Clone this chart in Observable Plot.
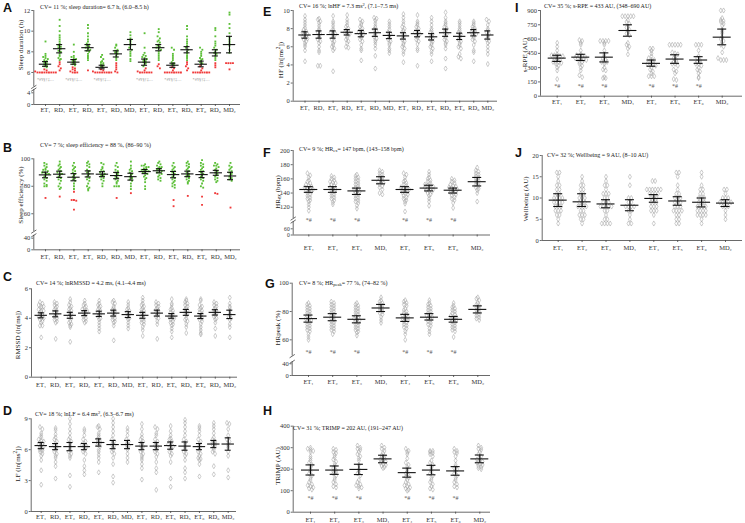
<!DOCTYPE html>
<html><head><meta charset="utf-8">
<script src="https://cdn.jsdelivr.net/npm/d3@7"></script>
<script src="https://cdn.jsdelivr.net/npm/@observablehq/plot@0.6"></script>
<style>
body{margin:0;background:#fff;}
#fig{position:relative;width:745px;height:523px;overflow:hidden;font-family:"Liberation Serif","DejaVu Serif",serif;color:#222;}
.lt{position:absolute;font:bold 12.5px "Liberation Sans",Arial,sans-serif;line-height:1;color:#111;}
.cv{position:absolute;font-size:6px;line-height:1;white-space:nowrap;}
.yt{position:absolute;font-size:7px;line-height:1;white-space:nowrap;transform:translate(-50%,-50%) rotate(-90deg);}
sub{font-size:0.75em;vertical-align:-0.3em;line-height:0;}
sup{font-size:0.75em;vertical-align:0.4em;line-height:0;}
</style></head><body><div id="fig"></div><script>
// ---------- categories ----------
const catsLong = ["ET₁","RD₁","ET₂","RD₂","ET₃","RD₃","MD₁","ET₄","RD₄","ET₅","RD₅","ET₆","RD₆","MD₂"];
const catsLongB = ["ET₁","RD₁","ET₂","ET₃","RD₂","RD₃","MD₁","ET₄","RD₄","ET₅","RD₅","ET₆","RD₆","MD₂"];
const catsShort = ["ET₁","ET₂","ET₃","MD₁","ET₄","ET₅","ET₆","MD₂"];
const etIdxLong = [0,2,4,7,9,11];
const etIdxShort = [0,1,2,4,5,6];

// ---------- A: sleep duration (h) ----------
const sleepDurGreen = [
 [9.0,7.8,7.6,7.5,7.4,7.3,7.2,7.1,7.0,6.9,6.8,6.7,6.6,6.5],
 [11.1,10.5,10.0,9.6,9.4,9.2,9.0,8.8,8.6,8.5,8.4,8.3,8.1,8.0,7.8,7.6,7.4,7.3,7.2],
 [8.7,8.0,7.6,7.5,7.4,7.3,7.2,7.1,7.0,6.9,6.8,6.7],
 [10.6,10.3,9.8,9.5,9.2,9.0,8.8,8.7,8.6,8.5,8.4,8.3,8.2,8.1,8.0,7.8,7.6,7.4,7.2],
 [7.7,7.5,7.3,7.1,7.0,6.9,6.8,6.7,6.6,6.5],
 [8.7,8.6,8.4,8.2,8.1,8.0,7.9,7.8,7.6,7.4,7.2],
 [9.9,9.6,9.3,9.1,9.0,8.8,8.6,8.4,8.2,8.0,7.8,7.6,7.3,7.1],
 [9.8,8.4,7.9,7.7,7.6,7.5,7.4,7.3,7.2,7.1,7.0,6.9,6.8,6.6],
 [10.2,9.9,9.5,9.3,9.1,9.0,8.9,8.7,8.6,8.5,8.4,8.3,8.2,8.0,7.8,7.6,7.4,7.2],
 [8.4,8.2,7.8,7.6,7.4,7.2,7.0,6.9,6.8,6.7],
 [10.5,10.2,9.5,9.2,9.0,8.8,8.6,8.4,8.2,8.0,7.8,7.6,7.4,7.2],
 [8.4,8.2,8.0,7.8,7.6,7.4,7.3,7.2,7.0,6.9,6.8],
 [10.3,10.1,9.5,9.0,8.8,8.6,8.4,8.2,8.0,7.9,7.8,7.6,7.4,7.2],
 [11.8,11.6,10.7,10.3,9.8,9.4,9.2,9.0,8.8,8.6,8.2,7.9]];
const sleepDurRed = [
 [6.3,6.2,6.1,6.0,6.0,6.0,6.0,6.0,6.0,6.0,6.0,6.0],
 [7.0,6.8,6.6,6.4,6.2],
 [6.5,6.4,6.3,6.2,6.1,6.0,6.0,6.0],
 [6.2],
 [6.3,6.2,6.1,6.0,6.0,6.0,6.0,6.0,6.0,6.0,6.0],
 [6.9,6.7,6.5,6.3,6.1,6.0],
 [],
 [6.4,6.2,6.1,6.0,6.0,6.0,6.0,6.0,6.0],
 [6.8,6.6,6.4],
 [6.5,6.4,6.2,6.0,6.0,6.0,6.0,6.0,6.0,6.0,6.0],
 [7.0,6.8,6.6,6.4,6.2],
 [6.6,6.4,6.2,6.0,6.0,6.0,6.0,6.0,6.0,6.0,6.0],
 [6.9,6.7,6.5],
 [6.9,6.9,6.9,6.9,6.3]];
const sleepDurMean = [6.8,8.3,7.0,8.4,6.5,7.8,8.7,7.0,8.4,6.7,8.2,6.8,7.9,8.7];
const sleepDurLo = [6.6,7.9,6.8,8.1,6.35,7.5,8.2,6.7,8.1,6.5,7.9,6.55,7.6,7.9];
const sleepDurHi = [7.05,8.7,7.25,8.7,6.7,8.1,9.2,7.3,8.7,6.9,8.5,7.1,8.2,9.5];
const ticksA = [0,4,6,8,10,12];

// ---------- B: sleep efficiency (%) ----------
const sleepEffGreen = [
 [97,96,95,94,93,92,92,91,90,90,89,89,88,87,86,85,84,82,81,80,80],
 [98,96,95,94,93,92,91,90,89,89,88,87,86,85,84,82,80,79,78],
 [97,95,94,93,92,91,90,89,88,87,86,85,84,82,80,78],
 [98,97,96,95,94,92,91,90,89,88,87,86,85,84,82,80,79,78,77],
 [97,96,94,93,92,91,90,89,89,88,88,87,86,85,84,82,80],
 [97,95,94,92,91,90,89,88,87,86,85,84,83,82,80,80,80],
 [98,95,93,92,91,90,89,88,87,86,85,84,82,80,78],
 [96,95,95,94,94,93,93,92,92,91,91,90,90,89,88,87,86,85,83,80,78],
 [98,97,96,95,94,94,93,93,92,92,91,90,90,89,88,87,86,85,84],
 [97,95,94,93,92,91,90,89,88,87,86,85,84,83,82,81,80,79],
 [98,97,96,95,94,93,92,91,90,89,88,88,87,86,85,84,83,82],
 [99,97,96,95,94,93,92,91,90,89,88,87,86,85,84,82,80,79],
 [97,96,95,95,94,93,92,91,90,89,88,87,86,85,84,83],
 [97,95,94,93,92,91,90,89,88,87,86,85,84]];
const sleepEffRed = [[71.5],[72.5],[76,70,70,69.5,63],[],[],[71.5],[75],[],[],[70,65.5],[73],[72.5,66.5],[75,74.5],[64.5]];
const sleepEffMean = [88.3,88.8,86.6,89,88.8,87.8,87,90.7,91.3,88.5,89,88.5,89.8,87.5];
const sleepEffLo = [86.2,86.5,84,86.8,87,85.5,84.5,89.2,89.8,86.2,87,86.3,88,84.8];
const sleepEffHi = [90.3,91,89.2,91.2,90.6,90.1,89.5,92.2,92.8,90.8,91,90.7,91.6,90.2];
const ticksB = [0,40,60,80,100];

// ---------- C: lnRMSSD ----------
const rmssd = [
 [5.1,5.0,4.9,4.8,4.8,4.7,4.6,4.5,4.5,4.4,4.3,4.2,4.2,4.1,4.0,4.0,3.9,3.8,3.7,3.5,3.5,2.7],
 [5.1,5.0,4.9,4.8,4.7,4.6,4.5,4.4,4.3,4.2,4.1,4.0,3.9,3.8,3.7,2.6],
 [5.3,5.1,4.9,4.8,4.7,4.6,4.5,4.4,4.3,4.2,4.1,4.0,3.8,3.7,3.6,3.5,3.4,2.4],
 [5.2,5.0,4.9,4.8,4.7,4.6,4.5,4.5,4.4,4.3,4.2,4.1,4.0,3.9,3.8,3.7],
 [5.2,5.0,4.9,4.8,4.7,4.6,4.5,4.4,4.3,4.2,4.1,4.0,3.9,3.7,3.5,3.3,3.1],
 [5.2,5.1,5.0,4.8,4.7,4.6,4.5,4.4,4.3,4.2,4.1,4.0,3.9,3.8,3.7,3.5,2.5],
 [5.1,4.9,4.7,4.6,4.5,4.4,4.3,4.2,4.1,4.0,3.9,3.7,3.5,3.3],
 [5.4,5.2,5.0,4.9,4.8,4.7,4.6,4.5,4.4,4.3,4.2,4.1,4.0,3.9,3.8,3.7,3.6,3.4,3.2,2.8],
 [5.1,5.0,4.9,4.8,4.7,4.6,4.5,4.4,4.3,4.2,4.1,4.0,3.8,3.6,2.6],
 [5.3,5.0,4.9,4.7,4.6,4.5,4.4,4.3,4.2,4.1,4.0,4.0,3.9,3.8,3.7,3.6,3.5,3.3,3.1,2.7],
 [5.3,5.2,5.1,5.0,4.9,4.8,4.7,4.6,4.5,4.4,4.3,4.2,4.0,3.9,3.8,3.6,3.4,3.0],
 [5.3,5.2,4.9,4.8,4.7,4.6,4.5,4.4,4.3,4.2,4.1,4.0,3.9,3.8,3.6,3.4,3.2,3.0,2.9],
 [5.1,5.0,4.9,4.8,4.7,4.6,4.5,4.4,4.3,4.2,4.1,4.0,3.9,3.7,3.3,2.8],
 [5.4,5.0,4.8,4.7,4.5,4.3,4.2,4.1,4.0,3.9,3.6,3.4,2.7]];
const rmssdMean = [4.2,4.3,4.2,4.35,4.3,4.35,4.25,4.2,4.35,4.15,4.4,4.15,4.4,4.25];
const rmssdLo = [4.03,4.1,4.0,4.18,4.12,4.15,4.05,4.0,4.15,4.0,4.2,3.98,4.22,3.98];
const rmssdHi = [4.37,4.5,4.4,4.52,4.48,4.55,4.45,4.4,4.55,4.32,4.6,4.32,4.58,4.55];
const ticksC = [0,2,4,6];

// ---------- D: lnLF ----------
const lf = [
 [8.2,8.0,7.6,7.4,7.2,7.0,6.9,6.8,6.7,6.6,6.5,6.4,6.3,6.2,6.1,6.0,5.9,5.8,5.6,5.4,5.0,4.0,2.6],
 [8.1,7.9,7.5,7.2,7.0,6.8,6.6,6.4,6.3,6.2,6.0,5.8,5.6,5.4,5.2,4.8,4.4,3.2],
 [9.0,8.5,8.0,7.6,7.2,7.0,6.8,6.6,6.4,6.2,6.0,5.8,5.6,5.4,5.2,3.5,2.4],
 [8.0,7.8,7.4,7.0,6.8,6.6,6.5,6.4,6.3,6.2,6.0,5.8,5.6,5.0,4.4,4.0,3.6],
 [8.3,8.2,8.0,7.6,7.4,7.2,7.0,6.8,6.7,6.6,6.5,6.3,6.0,5.8,5.5,5.2,4.8,3.8],
 [9.0,8.6,8.2,7.8,7.4,7.0,6.8,6.6,6.5,6.4,6.2,6.0,5.8,5.6,5.2,4.6,3.4,2.8],
 [8.1,7.8,7.4,7.0,6.8,6.6,6.5,6.4,6.2,6.0,5.6,5.2,4.8],
 [8.5,8.0,7.5,7.2,7.0,6.8,6.6,6.4,6.3,6.2,6.0,5.8,5.6,5.4,5.2,5.0,4.6,4.2,3.1],
 [8.2,8.0,7.6,7.4,7.0,6.8,6.6,6.4,6.3,6.2,6.0,5.8,5.6,5.3,4.8,4.2,3.8,2.1],
 [8.3,7.8,7.4,7.1,7.0,6.8,6.6,6.5,6.4,6.3,6.2,6.0,5.8,5.6,5.4,4.8,3.2,2.4],
 [8.9,8.6,8.2,7.8,7.4,7.0,6.8,6.6,6.4,6.2,6.0,5.8,5.6,5.4,5.0,4.2,3.8,3.2],
 [8.3,8.1,7.8,7.4,7.0,6.8,6.6,6.4,6.2,6.0,5.8,5.6,5.4,5.2,5.1,5.0,4.6,3.4],
 [8.6,8.3,8.0,7.6,7.2,7.0,6.8,6.7,6.6,6.5,6.4,6.2,6.0,5.8,5.6,4.4,3.6],
 [8.6,8.5,8.0,7.4,7.0,6.8,6.6,6.4,6.2,5.8,5.4,4.0,3.3]];
const lfMean = [6.4,6.3,6.3,6.3,6.7,6.5,6.5,6.35,6.35,6.4,6.35,6.3,6.55,6.55];
const lfLo = [6.1,6.0,5.9,6.0,6.35,6.1,6.1,6.0,6.0,6.05,5.95,6.0,6.2,5.95];
const lfHi = [6.7,6.6,6.7,6.6,7.05,6.9,6.9,6.7,6.7,6.75,6.75,6.6,6.9,7.15];
const ticksD = [0,3,6,9];

// ---------- E: lnHF ----------
const hf = [
 [9.4,9.0,8.7,8.4,8.1,7.9,7.7,7.6,7.5,7.4,7.3,7.2,7.1,7.0,6.9,6.8,6.6,6.4,6.2,6.0,5.6,4.4],
 [9.1,9.0,8.8,8.6,8.3,8.0,7.8,7.6,7.4,7.2,7.0,6.8,6.6,6.4,6.0,5.6,5.4,3.9,3.9],
 [9.4,8.8,8.6,8.3,8.0,7.8,7.6,7.5,7.4,7.2,7.0,6.8,6.6,6.4,6.2,6.0,5.8,5.6,3.3],
 [9.5,9.0,8.7,8.4,8.2,8.0,7.8,7.7,7.6,7.5,7.4,7.2,7.0,6.8,6.6,6.4,6.0,5.9],
 [9.0,8.8,8.6,8.4,8.2,8.0,7.8,7.7,7.6,7.5,7.4,7.2,7.0,6.8,6.6,6.2,5.8,5.6,4.5],
 [9.2,9.1,8.9,8.6,8.3,8.1,7.9,7.7,7.5,7.3,7.1,6.9,6.7,6.5,6.2,5.8,5.0,3.6],
 [8.8,8.5,8.2,7.9,7.6,7.4,7.2,7.0,6.8,6.6,6.4,6.2,5.8,5.6,5.3],
 [9.6,9.2,8.8,8.5,8.2,8.0,7.8,7.6,7.4,7.2,7.0,6.8,6.6,6.4,6.2,6.0,5.8,5.5,5.2,4.3],
 [9.5,8.8,8.6,8.4,8.2,8.0,7.8,7.6,7.5,7.4,7.2,7.0,6.8,6.6,6.3,5.8,5.6,3.9],
 [9.2,8.8,8.4,8.0,7.8,7.6,7.4,7.2,7.0,6.9,6.8,6.6,6.4,6.2,6.0,5.8,5.5,5.2,4.4],
 [9.8,9.2,8.8,8.6,8.4,8.2,8.0,7.8,7.6,7.4,7.2,7.0,6.8,6.6,6.4,6.2,5.8,4.7,3.6],
 [8.8,8.6,8.3,8.0,7.8,7.6,7.4,7.2,7.0,6.8,6.6,6.4,6.2,6.0,5.8,5.2,4.9,4.7],
 [8.8,8.6,8.4,8.2,8.0,7.9,7.8,7.6,7.5,7.4,7.2,7.0,6.8,6.6,6.2,5.6,5.4,4.4],
 [9.0,8.8,8.4,8.0,7.8,7.6,7.4,7.2,7.0,6.8,6.6,6.4,6.0,5.6,5.2,4.1]];
const hfMean = [7.3,7.35,7.35,7.6,7.45,7.55,7.25,7.2,7.45,7.1,7.55,7.15,7.55,7.3];
const hfLo = [6.95,6.95,6.95,7.3,7.1,7.15,6.9,6.85,7.1,6.75,7.15,6.8,7.2,6.85];
const hfHi = [7.65,7.75,7.75,7.9,7.8,7.95,7.6,7.55,7.8,7.45,7.95,7.5,7.9,7.75];
const ticksE = [0,2,4,6,8,10];

// ---------- F: HRex (bpm) ----------
const hrex = [
 [168,165,162,158,156,154,152,150,149,148,147,146,145,144,143,142,140,138,136,134,132,130,128,124,120,115],
 [164,162,160,158,156,155,154,152,150,148,146,145,144,142,140,138,136,134,132,130,127,124],
 [166,164,162,160,158,156,154,152,150,148,146,144,143,142,140,138,136,134,132,130,128,126,122,118],
 [172,170,168,166,164,162,160,158,156,155,154,152,150,148,145,140,138],
 [168,166,162,158,156,154,152,150,148,147,146,145,144,143,142,141,140,138,136,134,132,130,128,125,114],
 [170,166,162,160,158,156,154,152,151,150,149,148,147,146,145,144,143,142,140,138,136,132,128,122],
 [160,158,156,154,152,150,149,148,147,146,145,144,143,142,141,140,138,136,134,132,130,126,119],
 [176,172,170,168,166,164,162,160,158,156,154,152,150,148,146,144,140,128]];
const hrexMean = [145,145,143,158,145,147,144,156];
const hrexLo = [141,141,138,153,141,143,140,150];
const hrexHi = [149,149,147,163,149,151,147,162];
const ticksF = [0,60,120,140,160,180,200];

// ---------- G: HRpeak (%) ----------
const hrpeak = [
 [86,85,84,83,82,81,80,79,78,77,76,75,75,74,73,72,71,70,69,68,67,66,64,62,60],
 [87,86,85,84,83,82,81,80,79,78,77,76,75,74,73,72,71,70,69,68,67,66,64],
 [86,85,84,83,82,81,80,79,78,77,76,75,74,74,73,72,71,70,69,68,67,66,65,63],
 [90,88,87,86,85,84,83,82,81,80,79,78,76,74,72],
 [88,87,86,85,84,82,81,80,79,78,77,76,76,75,75,74,73,72,71,70,69,68,66,64,60],
 [88,86,85,84,83,82,81,80,79,78,77,76,76,75,74,73,72,71,70,68,66,64],
 [86,84,83,82,81,80,79,78,77,76,76,75,75,74,73,72,71,70,69,68,67,66,62],
 [90,89,88,86,85,84,83,82,81,80,79,78,77,76,75,74]];
const hrpeakMean = [75,76,74.5,82.5,75.5,76,74.5,81.5];
const hrpeakLo = [72.5,73.5,72,80,73,74,72.5,79];
const hrpeakHi = [77.5,78.5,77,85,78,78.5,76.5,84];
const ticksG = [0,40,60,80,100];

// ---------- H: TRIMP (AU) ----------
const trimp = [
 [300,295,290,285,280,260,250,240,230,220,210,200,190,180,170,160,150,140,130,125,120,115,110,105],
 [295,290,280,275,265,255,245,235,225,215,205,195,190,185,180,170,160,150,140,130,120,115],
 [310,300,295,290,280,270,260,250,240,220,200,190,180,170,150,140,130,125,120,115,110],
 [310,300,295,285,275,265,260,255,250,245,240,235,230,225,220,215,210,205],
 [295,285,280,270,250,230,220,210,200,190,180,170,165,160,150,140,130,125,120,115,110,105,100],
 [285,285,280,275,270,260,240,230,220,210,200,190,180,170,160,150,140,130,120,110,105],
 [295,285,280,275,260,240,220,210,205,200,190,180,170,160,150,140,130,120,115],
 [310,300,295,290,280,270,260,250,245,240,235,230,225,220,215,210,205,200]];
const trimpMean = [196,196,199,248,184,196,192,248];
const trimpLo = [173,176,175,230,163,174,172,230];
const trimpHi = [220,215,223,265,205,218,212,266];
const ticksH = [0,100,200,300,400];

// ---------- I: s-RPE (AU) ----------
const srpe = [
 [560,520,480,440,430,430,420,420,420,400,390,380,360,360,360,350,340,320,300,270,180],
 [590,580,560,540,480,440,430,420,420,420,400,400,390,380,380,360,360,340,320,300,270,220,200],
 [580,580,580,580,560,540,480,440,420,400,380,360,360,360,340,300,280,270,200,190,190],
 [840,840,840,840,840,800,780,760,720,700,680,660,640,560,540,520,500,440],
 [500,500,480,450,420,400,380,380,360,360,340,340,330,320,300,280,260,240,210,210,210],
 [540,540,540,540,540,460,450,440,420,400,380,360,360,340,340,320,280,260,240,180,170],
 [540,540,540,480,420,400,380,360,360,340,340,320,300,280,260,240,200,190],
 [900,900,820,800,790,780,760,740,700,680,660,620,600,580,540,520,460,400,380,380,380]];
const srpeMean = [400,410,410,690,345,390,380,620];
const srpeLo = [365,375,360,630,315,345,345,540];
const srpeHi = [430,440,455,750,380,435,415,705];
const ticksI = [0,150,300,450,600,750,900];

// ---------- J: Wellbeing (AU) ----------
const wellbeing = [
 [16,16,15,14,13,13,12,12,11,11,10,10,10,10,9,9,9,9,8,8,8,7,7,7,6,6,5,4],
 [15,14,13,13,12,12,11,11,10,10,10,9,9,9,8,8,8,8,7,7,6,6,6,5,5,4],
 [15,14,13,13,12,11,11,11,10,10,9,9,9,8,8,8,8,8,7,7,6,5,5,4,4,4,4],
 [15,13,10,10,9,9,8,8,8,8,7,7,6,5,4,4],
 [14,14,12,12,12,12,12,12,11,11,11,11,10,10,10,9,9,9,8,8,8,7,7,7,6,4],
 [16,16,15,13,12,11,11,10,10,10,9,9,9,8,8,8,7,7,7,7,6,6,5,5,4,4],
 [16,15,13,12,12,11,11,10,10,10,9,9,9,8,8,8,8,7,7,7,7,6,6,6,6,5,4],
 [12,12,11,10,10,10,9,9,9,9,9,8,8,8,7,6,5]];
const wellMean = [9.5,9.1,8.6,8.3,9.9,9.3,9.0,8.8];
const wellLo = [8.0,8.0,7.7,7.0,9.0,8.3,7.9,8.0];
const wellHi = [11.0,11.0,9.6,9.6,10.8,10.3,10.0,9.6];
const ticksJ = [0,5,10,15,20];

// ---------- texts ----------
const cvTexts = {
 A:"CV= 11 %; sleep duration= 6.7 h, (6.0–8.5 h)",
 B:"CV= 7 %; sleep efficiency = 88 %, (86–90 %)",
 C:"CV= 14 %; lnRMSSD = 4.2 ms, (4.1–4.4 ms)",
 D:"CV= 18 %; lnLF = 6.4 ms<sup>2</sup>, (6.3–6.7 ms)",
 E:"CV= 16 %; lnHF = 7.3 ms<sup>2</sup>, (7.1–7.5 ms)",
 F:"CV= 9 %; HR<sub>ex</sub>= 147 bpm, (143–158 bpm)",
 G:"CV= 8 %; HR<sub>peak</sub>= 77 %, (74–82 %)",
 H:"CV= 31 %; TRIMP = 202 AU, (191–247 AU)",
 I:"CV= 35 %; s-RPE = 433 AU, (348–690 AU)",
 J:"CV= 32 %; Wellbeing = 9 AU, (8–10 AU)"};
const yTitles = {
 A:"Sleep duration (h)", B:"Sleep efficiency (%)", C:"RMSSD (ln[ms])", D:"LF (ln[ms<sup>2</sup>])",
 E:"HF (ln[ms<sup>2</sup>])", F:"HR<sub>ex</sub> (bpm)", G:"HRpeak (%)", H:"TRIMP (AU)",
 I:"s-RPE (AU)", J:"Wellbeing (AU)"};
const annA = "*#¥§†‡…";
const annS = "*#";

// ---------- styles ----------
const axisCol = "#444", greenCol = "#5cbf38", redCol = "#f03a3a", grayPt = "#a3a3a3";

// ---------- layout (positions, px) ----------
const layoutCfg = {
 A:{box:[0,0,250,122],axisX:33.3,axisY:104,xEnd:240,c0:45,c1:229,
    upper:{domain:[5,12],range:[82.3,10],seg:[4.6,12]},lower:{domain:[0,4],range:[104,92.3],seg:[0,5.1],fs:6.5},
    xPad:0.8,sp:2.3,meanHalf:6.2,capHalf:3,letter:[3,2.4],cv:[40,7],yt:[21,45]},
 B:{box:[0,138,250,126],axisX:33.3,axisY:249.3,xEnd:240,c0:45,c1:230,
    upper:{domain:[50,100],range:[227,158.3],seg:[47,100]},lower:{domain:[0,40],range:[249.3,237.7],seg:[0,50],fs:6.5},
    xPad:2.9,sp:2.3,meanHalf:6.2,capHalf:3,letter:[3,142.4],cv:[40,145],yt:[21,195]},
 C:{box:[0,280,250,112],axisX:31,axisY:376.7,xEnd:237,c0:40.7,c1:229.3,
    upper:{domain:[0,6],range:[376.7,288.3],seg:[0,6]},xPad:2.8,sp:2.5,meanHalf:6.2,capHalf:3,letter:[3,271],cv:[36,283],yt:[18.3,335]},
 D:{box:[0,410,250,113],axisX:30.7,axisY:511,xEnd:236,c0:40.7,c1:227.7,
    upper:{domain:[0,9],range:[511,418.3],seg:[0,9]},xPad:1.2,sp:2.5,meanHalf:6.2,capHalf:3,letter:[3,405],cv:[35,414],yt:[18.3,464]},
 E:{box:[250,0,250,120],axisX:292.7,axisY:100.7,xEnd:497,c0:304.5,c1:487.3,
    upper:{domain:[0,10],range:[100.7,10],seg:[0,10]},xPad:2.5,sp:2.5,meanHalf:6.2,capHalf:3,letter:[263,6.4],cv:[299,6],yt:[280.7,60]},
 F:{box:[250,140,250,120],axisX:292.7,axisY:234.5,xEnd:490,c0:308.3,c1:476.7,
    upper:{domain:[100,200],range:[220.9,150],seg:[104,200]},lower:{domain:[0,60],range:[234.5,228.3],seg:[0,130],fs:5.6},
    xPad:8.3,sp:2.8,meanHalf:9,capHalf:4.5,annY:102,letter:[263,147.4],cv:[299,149],yt:[278.3,192]},
 G:{box:[250,268,250,122],axisX:291.7,axisY:375,xEnd:490,c0:308,c1:477.3,
    upper:{domain:[50,100],range:[353.5,282.7],seg:[48.5,100]},lower:{domain:[0,40],range:[375,363.3],seg:[0,47],fs:6.5},
    xPad:2,sp:2.8,meanHalf:9,capHalf:4.5,annY:51.5,letter:[265,278.4],cv:[299,282.7],yt:[278.3,328]},
 H:{box:[250,410,250,113],axisX:292.7,axisY:511.7,xEnd:490,c0:310,c1:479.3,
    upper:{domain:[0,400],range:[511.7,425.7],seg:[0,400]},xPad:2.8,sp:2.8,meanHalf:9,capHalf:4.5,annY:65,letter:[263,405.4],cv:[293,427.7],yt:[278.3,466]},
 I:{box:[495,0,250,112],axisX:540,axisY:95.7,xEnd:742,c0:556.7,c1:721.7,
    upper:{domain:[0,900],range:[95.7,10],seg:[0,900]},xPad:1.5,sp:2.8,meanHalf:9,capHalf:4.5,annY:102,letter:[515,2.4],cv:[544,6],yt:[525,55]},
 J:{box:[495,140,250,120],axisX:541.7,axisY:240,xEnd:742,c0:557.7,c1:725,
    upper:{domain:[0,20],range:[240,155],seg:[0,20]},xPad:2.8,sp:2.8,meanHalf:9,capHalf:4.5,letter:[515,147.4],cv:[547,155],yt:[525.7,199]}
};

const panels = [
 {id:"A",labels:catsLong,ticks:ticksA,groups:[{vals:sleepDurGreen,color:greenCol},{vals:sleepDurRed,color:redCol}],filled:true,mean:sleepDurMean,lo:sleepDurLo,hi:sleepDurHi,ann:annA,annIdx:etIdxLong,annY:5.32,annSize:4.3,annCol:"#8a8a8a"},
 {id:"B",labels:catsLongB,ticks:ticksB,groups:[{vals:sleepEffGreen,color:greenCol},{vals:sleepEffRed,color:redCol}],filled:true,mean:sleepEffMean,lo:sleepEffLo,hi:sleepEffHi},
 {id:"C",labels:catsLong,ticks:ticksC,groups:[{vals:rmssd}],mean:rmssdMean,lo:rmssdLo,hi:rmssdHi},
 {id:"D",labels:catsLong,ticks:ticksD,groups:[{vals:lf}],mean:lfMean,lo:lfLo,hi:lfHi},
 {id:"E",labels:catsLong,ticks:ticksE,groups:[{vals:hf}],mean:hfMean,lo:hfLo,hi:hfHi},
 {id:"F",labels:catsShort,ticks:ticksF,groups:[{vals:hrex}],mean:hrexMean,lo:hrexLo,hi:hrexHi,ann:annS,annIdx:etIdxShort},
 {id:"G",labels:catsShort,ticks:ticksG,groups:[{vals:hrpeak}],mean:hrpeakMean,lo:hrpeakLo,hi:hrpeakHi,ann:annS,annIdx:etIdxShort},
 {id:"H",labels:catsShort,ticks:ticksH,groups:[{vals:trimp}],mean:trimpMean,lo:trimpLo,hi:trimpHi,ann:annS,annIdx:etIdxShort},
 {id:"I",labels:catsShort,ticks:ticksI,groups:[{vals:srpe}],mean:srpeMean,lo:srpeLo,hi:srpeHi,ann:annS,annIdx:etIdxShort},
 {id:"J",labels:catsShort,ticks:ticksJ,groups:[{vals:wellbeing}],mean:wellMean,lo:wellLo,hi:wellHi}
];

const fig = document.getElementById("fig");
const plotStyle = {fontFamily: '"Liberation Serif","DejaVu Serif",serif', fontSize: "6.5px", color: "#333", background: "transparent", overflow: "visible"};
const fmtTick = d => String(d);

function place(svg, L, T) {
  svg.style.position = "absolute";
  svg.style.left = L + "px";
  svg.style.top = T + "px";
  fig.appendChild(svg);
}

function build(p) {
  const g = layoutCfg[p.id];
  const n = p.labels.length;
  const [L, T, W, H] = g.box;
  const ppc = (g.c1 - g.c0) / (n - 1);
  const xd = [(g.axisX - g.c0) / ppc, (n - 1) + (g.xEnd - g.c1) / ppc];
  const margins = {width: W, height: H, marginLeft: g.axisX - L, marginRight: L + W - g.xEnd, marginTop: 0, marginBottom: T + H - g.axisY};
  const broken = !!g.lower;
  const up = g.upper;
  const upRange = up.range.map(v => v - T);
  const ys = d3.scaleLinear(up.domain, upRange);
  const sp = g.sp;
  const pts = [];
  for (let i = 0; i < n; i++) {
    const items = [];
    p.groups.forEach(gr => gr.vals[i].forEach(v => items.push({v, c: gr.color || grayPt})));
    const bins = d3.group(items, d => Math.round(ys(d.v) / sp));
    for (const arr of bins.values())
      arr.forEach((d, k) => pts.push({x: i + (k - (arr.length - 1) / 2) * sp / ppc, y: d.v, c: d.c}));
  }
  const stats = p.mean.map((m, i) => ({i, m, lo: p.lo[i], hi: p.hi[i]}));
  const hw = g.meanHalf / ppc, cw = g.capHalf / ppc;
  const dxs = 2.6 / ppc;
  const slash = (scale, v) => { const py = scale(v); return [{x1: xd[0] - dxs, y1: scale.invert(py + 1.7), x2: xd[0] + dxs, y2: scale.invert(py - 1.7)}]; };

  const dotMark = p.filled
    ? Plot.dot(pts, {x: "x", y: "y", fill: "c", symbol: "square", r: 1.05})
    : Plot.dot(pts, {x: "x", y: "y", stroke: grayPt, fill: "none", symbol: "diamond", r: 1.55, strokeWidth: 0.55});
  const xAxisMark = () => Plot.axisX({ticks: d3.range(n), tickFormat: i => p.labels[i], tickSize: 2, tickPadding: g.xPad, label: null, stroke: axisCol, strokeWidth: 0.8});
  const marks = [
    Plot.ruleX([up.seg], {x: () => xd[0], y1: d => d[0], y2: d => d[1], stroke: axisCol, strokeWidth: 0.8}),
    dotMark,
    Plot.ruleY(stats, {y: "m", x1: d => d.i - hw, x2: d => d.i + hw, stroke: "#111", strokeWidth: 1.1}),
    Plot.ruleX(stats, {x: "i", y1: "lo", y2: "hi", stroke: "#111", strokeWidth: 1.1}),
    Plot.ruleY(stats, {y: "lo", x1: d => d.i - cw, x2: d => d.i + cw, stroke: "#111", strokeWidth: 1.1}),
    Plot.ruleY(stats, {y: "hi", x1: d => d.i - cw, x2: d => d.i + cw, stroke: "#111", strokeWidth: 1.1}),
    Plot.axisY({ticks: p.ticks.filter(t => t >= up.domain[0]), tickFormat: fmtTick, tickSize: 2, tickPadding: 1.5, label: null, stroke: axisCol, strokeWidth: 0.8})
  ];
  if (broken) {
    marks.push(Plot.link(slash(ys, up.seg[0]), {x1: "x1", y1: "y1", x2: "x2", y2: "y2", stroke: axisCol, strokeWidth: 0.8}));
  } else {
    marks.unshift(Plot.ruleY([up.domain[0]], {y: d => d, x1: () => xd[0], x2: () => xd[1], stroke: axisCol, strokeWidth: 0.8}));
    marks.push(xAxisMark());
  }
  if (p.ann) {
    const ay = p.annY !== undefined ? p.annY : g.annY;
    marks.push(Plot.text(p.annIdx, {x: d => d, y: () => ay, text: () => p.ann, fontSize: p.annSize || 6, fill: p.annCol || "#555"}));
  }
  place(Plot.plot({...margins, x: {domain: xd, label: null, axis: broken ? null : undefined}, y: {domain: up.domain, range: upRange, label: null}, style: plotStyle, marks}), L, T);

  if (broken) {
    const lo = g.lower;
    const loRange = lo.range.map(v => v - T);
    const ysl = d3.scaleLinear(lo.domain, loRange);
    const lowMarks = [
      Plot.ruleY([lo.domain[0]], {y: d => d, x1: () => xd[0], x2: () => xd[1], stroke: axisCol, strokeWidth: 0.8}),
      Plot.ruleX([lo.seg], {x: () => xd[0], y1: d => d[0], y2: d => d[1], stroke: axisCol, strokeWidth: 0.8}),
      Plot.link(slash(ysl, lo.seg[1]), {x1: "x1", y1: "y1", x2: "x2", y2: "y2", stroke: axisCol, strokeWidth: 0.8}),
      Plot.axisY({ticks: p.ticks.filter(t => t <= lo.domain[1]), tickFormat: fmtTick, tickSize: 2, tickPadding: 1.5, label: null, stroke: axisCol, strokeWidth: 0.8, fontSize: lo.fs}),
      xAxisMark()
    ];
    place(Plot.plot({...margins, x: {domain: xd, label: null}, y: {domain: lo.domain, range: loRange, label: null}, style: plotStyle, marks: lowMarks}), L, T);
  }

  const lt = document.createElement("div");
  lt.className = "lt"; lt.textContent = p.id;
  lt.style.left = g.letter[0] + "px"; lt.style.top = g.letter[1] + "px";
  fig.appendChild(lt);

  const cv = document.createElement("div");
  cv.className = "cv"; cv.innerHTML = cvTexts[p.id];
  cv.style.left = g.cv[0] + "px"; cv.style.top = (g.cv[1] - 3) + "px";
  fig.appendChild(cv);

  const yt = document.createElement("div");
  yt.className = "yt"; yt.innerHTML = yTitles[p.id];
  yt.style.left = g.yt[0] + "px"; yt.style.top = g.yt[1] + "px";
  fig.appendChild(yt);
}
panels.forEach(build);
</script></body></html>
